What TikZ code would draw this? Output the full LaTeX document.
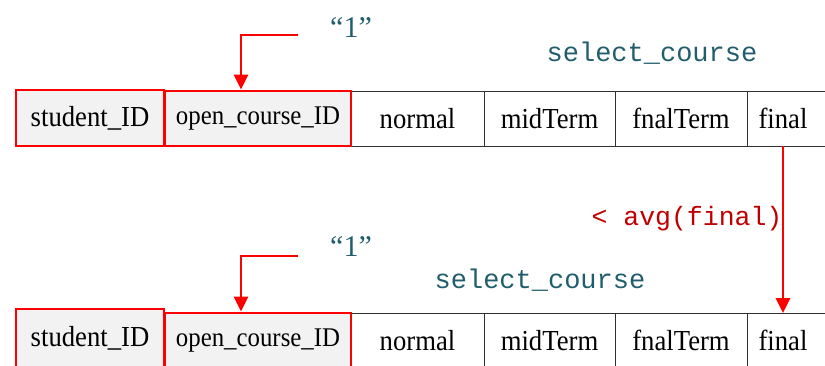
\documentclass[tikz,border=0pt]{standalone}
\usepackage{fontspec}
\setmainfont[FakeStretch=0.92]{Liberation Serif}
\setmonofont{Liberation Mono}
\newfontfamily\quotefont{Liberation Serif}
\usetikzlibrary{arrows.meta,calc}
\definecolor{teal1}{HTML}{215E6C}
\definecolor{darkred1}{HTML}{C00000}
\definecolor{gridc}{HTML}{303030}
\begin{document}
\begin{tikzpicture}[x=1pt,y=-1pt,
  cell/.style={draw=gridc,line width=0.8pt,inner sep=0pt,outer sep=0pt,minimum height=55pt,font=\fontsize{29}{31}\selectfont},
  keycell/.style={draw=red,line width=2.7pt,fill=black!5,inner sep=0pt,font=\fontsize{29}{31}\selectfont},
  opencell/.style={keycell,font=\fontsize{27}{29}\selectfont},
  freecell/.style={inner sep=0pt,outer sep=0pt,minimum height=55pt,font=\fontsize{29}{31}\selectfont},
  gridline/.style={draw=gridc,line width=0.8pt,line cap=rect},
  tname/.style={text=teal1,font=\ttfamily\fontsize{27}{30}\selectfont,inner sep=0pt},
  quote/.style={text=teal1,font=\quotefont\fontsize{30}{32}\selectfont,inner sep=0pt},
  cond/.style={text=darkred1,font=\ttfamily\fontsize{26.5}{30}\selectfont,inner sep=0pt},
  redarrow/.style={draw=red,line width=2.7pt,-{Triangle[width=14pt,length=15pt]}}]
\useasboundingbox (0,0) rectangle (825,366);
% ---------- top table ----------
\node[cell,minimum width=133pt] (n1) at (417.5,118.5) {normal};
\node[cell,minimum width=131pt] (m1) at (549.5,118.5) {midTerm};
\node[cell,minimum width=132pt] (f1) at (681,118.5) {fnalTerm};
\node[freecell,minimum width=78pt] (fi1) at (786,118.5) {\hspace*{-6pt}final};
\draw[gridline] (f1.north east) -- (fi1.north east);
\draw[gridline] (f1.south east) -- (fi1.south east);
\node[keycell,minimum width=148pt,minimum height=56pt] (s1) at (90,118) {student\_ID};
\node[opencell,minimum width=186pt,minimum height=55pt] (o1) at (258,118.5) {open\_course\_ID};
\node[quote] (q1) at (351,28) {“1”};
\node[tname] (t1) at (652,53) {select\_course};
\coordinate (a1) at (298,35);
\draw[redarrow] (a1) -| ([xshift=-17pt]o1.north);
% ---------- bottom table ----------
\node[cell,minimum width=133pt] (n2) at (417.5,340.5) {normal};
\node[cell,minimum width=131pt] (m2) at (549.5,340.5) {midTerm};
\node[cell,minimum width=132pt] (f2) at (681,340.5) {fnalTerm};
\node[freecell,minimum width=78pt] (fi2) at (786,340.5) {\hspace*{-6pt}final};
\draw[gridline] (f2.north east) -- (fi2.north east);
\draw[gridline] (f2.south east) -- (fi2.south east);
\node[keycell,minimum width=148pt,minimum height=58pt] (s2) at (90,338) {student\_ID};
\node[opencell,minimum width=186pt,minimum height=55pt] (o2) at (258,340.5) {open\_course\_ID};
\node[quote] (q2) at (351,247) {“1”};
\node[tname] (t2) at (540,280) {select\_course};
\coordinate (a2) at (298,256);
\draw[redarrow] (a2) -| ([xshift=-17pt]o2.north);
% ---------- condition arrow ----------
\node[cond] (c) at (687,219) {< avg(final)};
\draw[redarrow] ([xshift=-3pt]fi1.south) -- ([xshift=-3pt]fi2.north);
\end{tikzpicture}
\end{document}
